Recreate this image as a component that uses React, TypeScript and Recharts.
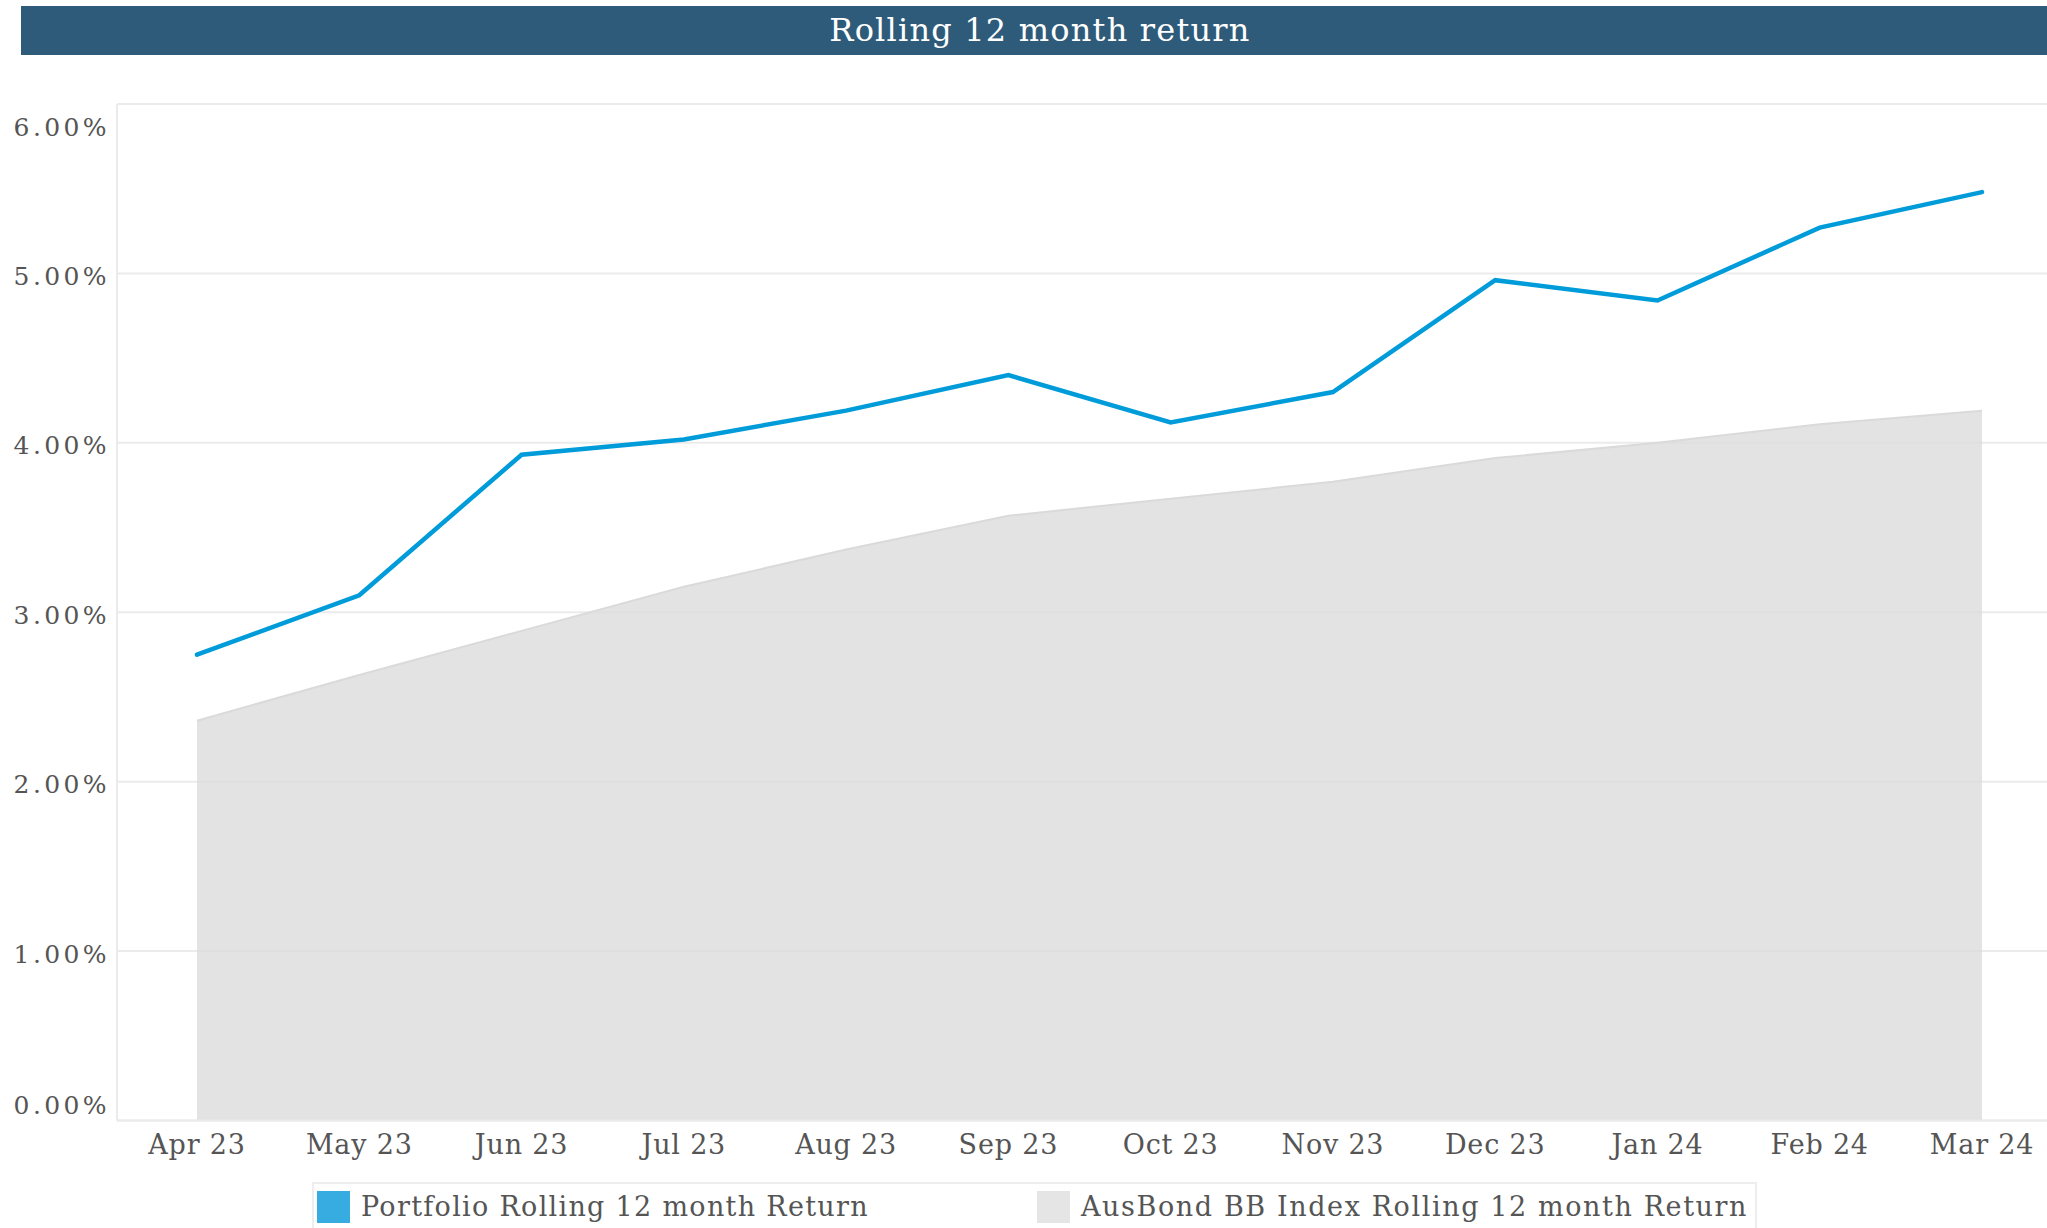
import { ComposedChart, Area, Line, XAxis, YAxis, CartesianGrid } from 'recharts';

const months = ['Apr 23', 'May 23', 'Jun 23', 'Jul 23', 'Aug 23', 'Sep 23', 'Oct 23', 'Nov 23', 'Dec 23', 'Jan 24', 'Feb 24', 'Mar 24'];
const portfolio = [2.75, 3.10, 3.93, 4.02, 4.19, 4.40, 4.12, 4.30, 4.96, 4.84, 5.27, 5.48];
const ausbond = [2.36, 2.63, 2.89, 3.15, 3.37, 3.57, 3.67, 3.77, 3.91, 4.00, 4.11, 4.19];
const yTicks = [0, 1, 2, 3, 4, 5, 6];

const seriesNames = ['Portfolio Rolling 12 month Return', 'AusBond BB Index Rolling 12 month Return'];

const data = months.map((m, i) => ({ name: m, portfolio: portfolio[i], ausbond: ausbond[i] }));

const FONT = '"DejaVu Serif", serif';

const YTick = (props: any) => {
    const { x, y, payload } = props;
    const v = payload.value;
    // first / last labels are pulled inside the plot, like the original
    const off = v === 6 ? 23 : v === 0 ? -15 : 3;
    return (
        <text x={x + 2} y={y + off} textAnchor="end" dominantBaseline="central" fill="#555" fontSize={25} fontFamily={FONT} letterSpacing={3.4}>
            {v.toFixed(2) + '%'}
        </text>
    );
};

const XTick = (props: any) => {
    const { x, y, payload } = props;
    return (
        <text x={x} y={y} dy="0.71em" textAnchor="middle" fill="#555" fontSize={27} fontFamily={FONT} letterSpacing={0.8}>
            {payload.value}
        </text>
    );
};

const App = () => {
    return (
        <div style={{ position: 'absolute', left: 0, top: 0, width: 2047, height: 1228, overflow: 'hidden', background: '#fff', fontFamily: FONT }}>
            <div style={{ position: 'absolute', left: 21, top: 6, width: 2026, height: 49, background: '#2E5B7A', color: '#fff', fontSize: 32, lineHeight: '49px', textAlign: 'center', paddingLeft: 12, boxSizing: 'border-box', letterSpacing: 1.2 }}>
                Rolling 12 month return
            </div>
            <div style={{ position: 'absolute', left: 0, top: 0 }}>
                <ComposedChart width={2047} height={1228} data={data} margin={{ top: 104, right: 0, bottom: 0, left: 0 }}>
                    <CartesianGrid vertical={false} stroke="#ebebeb" strokeWidth={2} />
                    <XAxis dataKey="name" scale="point" padding={{ left: 80, right: 65 }} height={107.5}
                        axisLine={{ stroke: '#ebebeb', strokeWidth: 2 }} tickLine={false} tickMargin={8}
                        tick={<XTick />} interval={0} />
                    <YAxis domain={[0, 6]} ticks={yTicks} width={117} axisLine={{ stroke: '#ebebeb', strokeWidth: 2 }}
                        tickLine={false} tickMargin={3} tick={<YTick />} />
                    <Area type="linear" dataKey="ausbond" stroke="#dadada" strokeWidth={2} fill="#dcdcdc" fillOpacity={0.8} isAnimationActive={false} />
                    <Line type="linear" dataKey="portfolio" stroke="#009CDA" strokeWidth={4.5} strokeLinecap="round" dot={false} isAnimationActive={false} />
                </ComposedChart>
            </div>
            <div style={{ position: 'absolute', left: 312, top: 1182, width: 1445, height: 60, border: '2px solid #eeeeee', boxSizing: 'border-box' }} />
            <div style={{ position: 'absolute', left: 317, top: 1191, width: 33, height: 32, background: '#36ACE0' }} />
            <div style={{ position: 'absolute', left: 361, top: 1190, fontSize: 27, lineHeight: '34px', color: '#555', whiteSpace: 'nowrap', letterSpacing: 1.3 }}>{seriesNames[0]}</div>
            <div style={{ position: 'absolute', left: 1037, top: 1191, width: 33, height: 32, background: '#e5e5e5' }} />
            <div style={{ position: 'absolute', left: 1081, top: 1190, fontSize: 27, lineHeight: '34px', color: '#555', whiteSpace: 'nowrap', letterSpacing: 1.6 }}>{seriesNames[1]}</div>
        </div>
    );
};

export default App;
